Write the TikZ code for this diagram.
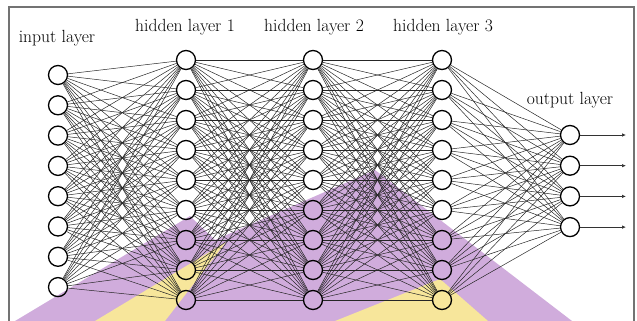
\documentclass[tikz,border=0pt]{standalone}
\usetikzlibrary{arrows.meta}
\definecolor{lil}{RGB}{208,172,220}
\definecolor{yel}{RGB}{247,230,155}
\begin{document}
\begin{tikzpicture}[x=1pt,y=-1pt,
  neuron/.style={circle,draw=black,line width=1.3pt,minimum size=19pt,inner sep=0pt},
  conn/.style={black!85,line width=0.5pt},
  outarrow/.style={black!80,line width=0.7pt,-{Latex[length=4pt,width=3.5pt]}},
  lbl/.style={font=\fontsize{17.6}{20}\selectfont,anchor=base,inner sep=0pt},
  frame/.style={draw=black!55,line width=1.5pt}]
\useasboundingbox (0,0) rectangle (637,321);
% coloured regions
\fill[lil] (15,321) -- (190,216) -- (215,240) -- (375,170) -- (572,321) -- cycle;
\fill[yel] (95,321) -- (226,242) -- (165,321) -- cycle;
\fill[yel] (335,321) -- (440,279) -- (488,321) -- cycle;
% frame
\draw[frame] (9,340) -- (9,7) -- (634,7) -- (634,340);
% neurons
\foreach \k in {1,...,8} \node[neuron] (i\k) at (58,{75+30.3*(\k-1)}) {};
\foreach \k in {1,...,9} {
  \node[neuron] (a\k) at (186,{60+30*(\k-1)}) {};
  \node[neuron] (b\k) at (313,{60+30*(\k-1)}) {};
  \node[neuron] (c\k) at (442,{60+30*(\k-1)}) {};
}
\foreach \k in {1,...,4} {
  \node[neuron] (o\k) at (570,{135+30.7*(\k-1)}) {};
  \coordinate (e\k) at (626,{135+30.7*(\k-1)});
}
% connections
\foreach \p in {1,...,8} \foreach \q in {1,...,9} \draw[conn] (i\p) -- (a\q);
\foreach \p in {1,...,9} \foreach \q in {1,...,9} {
  \draw[conn] (a\p) -- (b\q);
  \draw[conn] (b\p) -- (c\q);
}
\foreach \p in {1,...,9} \foreach \q in {1,...,4} \draw[conn] (c\p) -- (o\q);
\foreach \k in {1,...,4} \draw[outarrow] (o\k) -- (e\k);
% labels
\node[lbl] (li) at (57,43) {input layer};
\node[lbl] (l1) at (185,32) {hidden layer 1};
\node[lbl] (l2) at (314,32) {hidden layer 2};
\node[lbl] (l3) at (443,32) {hidden layer 3};
\node[lbl] (lo) at (570,104) {output layer};
\end{tikzpicture}
\end{document}
